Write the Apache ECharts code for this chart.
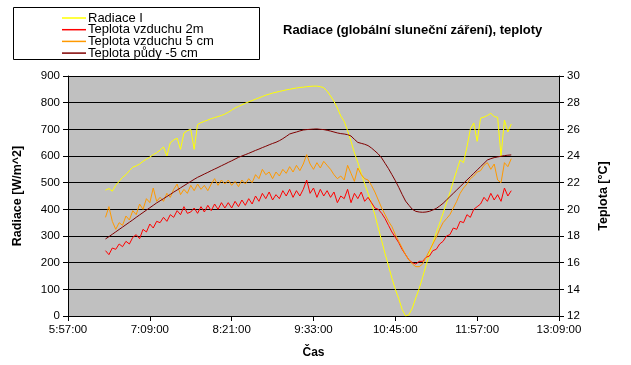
<!DOCTYPE html>
<html><head><meta charset="utf-8">
<script src="https://cdn.jsdelivr.net/npm/echarts@6/dist/echarts.min.js"></script>
<style>html,body{margin:0;padding:0;background:#fff}#c{width:631px;height:365px}</style>
</head><body><div id="c"></div>
<script>
// time in minutes since midnight, value
var radiace = [[390,472],[393,478],[396,468],[399,490],[402,505],[405,520],[408,530],[411,545],[414,558],[417,563],[420,570],[423,580],[426,588],[429,596],[432,605],[435,612],[438,622],[441,634],[444,600],[447,650],[450,660],[453,667],[456,625],[459,686],[462,695],[465,700],[468,625],[471,718],[474,725],[477,730],[480,735],[483,740],[486,744],[489,748],[492,752],[495,757],[498,764],[501,772],[504,780],[507,786],[510,792],[513,798],[516,803],[519,808],[522,813],[525,818],[528,823],[531,828],[534,832],[537,836],[540,839],[543,842],[546,845],[549,848],[552,850],[555,853],[558,855],[561,857],[564,858],[567,860],[570,861],[573,862],[576,862],[579,860],[582,856],[585,843],[588,825],[591,805],[594,780],[597,750],[600,730],[603,695],[606,655],[609,612],[612,575],[615,535],[618,497],[621,460],[624,422],[627,380],[630,330],[633,282],[636,233],[639,188],[642,142],[645,100],[648,65],[651,25],[654,0],[657,5],[660,30],[663,68],[666,103],[669,145],[672,190],[675,233],[678,274],[681,312],[684,348],[687,386],[690,424],[693,462],[696,505],[699,545],[702,585],[705,575],[708,634],[711,700],[714,724],[717,655],[720,742],[723,746],[726,752],[729,760],[732,748],[735,745],[738,600],[741,735],[744,690],[747,720]];
var vzduch2m = [[390,16.9],[393,16.6],[396,17.1],[399,17.0],[402,17.4],[405,17.2],[408,17.6],[411,17.4],[414,17.9],[417,18.1],[420,17.8],[423,18.5],[426,18.3],[429,18.9],[432,18.6],[435,19.1],[438,19.0],[441,19.4],[444,19.1],[447,19.6],[450,19.4],[453,19.9],[456,19.6],[459,20.2],[462,19.7],[465,19.8],[468,20.1],[471,19.7],[474,20.2],[477,19.8],[480,20.3],[483,19.9],[486,20.4],[489,20.0],[492,20.5],[495,20.1],[498,20.5],[501,20.1],[504,20.6],[507,20.2],[510,20.7],[513,20.3],[516,20.8],[519,20.4],[522,21.0],[525,20.6],[528,21.2],[531,20.8],[534,21.3],[537,20.7],[540,21.1],[543,20.8],[546,21.4],[549,21.0],[552,21.5],[555,20.9],[558,21.4],[561,21.0],[564,21.5],[567,22.2],[570,21.2],[573,21.6],[576,20.9],[579,21.5],[582,21.0],[585,21.4],[588,20.9],[591,21.3],[594,20.5],[597,21.0],[600,20.8],[603,21.5],[606,20.5],[609,21.2],[612,20.8],[615,21.3],[618,20.6],[621,20.9],[624,20.5],[627,20.1],[630,20.0],[633,19.7],[636,19.3],[639,18.8],[642,18.3],[645,17.9],[648,17.5],[651,17.0],[654,16.6],[657,16.2],[660,16.0],[663,15.9],[666,16.1],[669,16.1],[672,16.4],[675,16.5],[678,16.9],[681,17.0],[684,17.4],[687,17.6],[690,18.0],[693,18.1],[696,18.6],[699,18.5],[702,19.1],[705,19.0],[708,19.6],[711,19.4],[714,20.0],[717,20.2],[720,20.4],[723,20.9],[726,20.6],[729,21.2],[732,20.7],[735,21.1],[738,20.6],[741,21.6],[744,21.0],[747,21.4]];
var vzduch5cm = [[390,19.4],[393,20.2],[396,19.1],[399,18.5],[402,19.0],[405,18.8],[408,19.5],[411,19.2],[414,19.9],[417,19.6],[420,20.4],[423,20.0],[426,20.8],[429,20.5],[432,21.6],[435,20.6],[438,20.9],[441,20.6],[444,21.2],[447,20.9],[450,21.5],[453,21.9],[456,21.1],[459,21.5],[462,21.2],[465,21.8],[468,21.4],[471,21.9],[474,21.5],[477,21.8],[480,21.4],[483,21.9],[486,22.3],[489,21.8],[492,22.2],[495,21.9],[498,22.2],[501,21.8],[504,22.1],[507,21.7],[510,22.2],[513,21.9],[516,22.3],[519,22.0],[522,22.6],[525,22.3],[528,23.0],[531,22.6],[534,22.8],[537,22.3],[540,22.8],[543,22.5],[546,23.0],[549,22.7],[552,23.2],[555,22.8],[558,23.3],[561,22.9],[564,23.4],[567,24.1],[570,23.4],[573,23.0],[576,23.5],[579,23.1],[582,23.6],[585,23.3],[588,23.0],[591,22.6],[594,22.3],[597,22.5],[600,22.2],[603,23.3],[606,22.7],[609,22.1],[612,23.1],[615,22.6],[618,22.3],[621,22.2],[624,21.8],[627,21.3],[630,20.7],[633,20.1],[636,19.6],[639,19.1],[642,18.7],[645,18.1],[648,17.6],[651,17.1],[654,16.6],[657,16.2],[660,15.9],[663,15.7],[666,15.7],[669,15.9],[672,16.4],[675,16.9],[678,17.4],[681,17.9],[684,18.5],[687,19.0],[690,19.3],[693,19.6],[696,20.1],[699,20.6],[702,21.2],[705,21.6],[708,21.9],[711,22.3],[714,22.5],[717,22.8],[720,22.9],[723,23.3],[726,23.5],[729,23.0],[732,23.4],[735,22.2],[738,22.0],[741,23.5],[744,23.2],[747,23.8]];
var pudy = [[390,17.78],[393,17.95],[396,18.13],[399,18.31],[402,18.49],[405,18.67],[408,18.85],[411,19.03],[414,19.21],[417,19.4],[420,19.58],[423,19.76],[426,19.94],[429,20.12],[432,20.3],[435,20.48],[438,20.64],[441,20.8],[444,20.96],[447,21.12],[450,21.29],[453,21.45],[456,21.61],[459,21.77],[462,21.93],[465,22.09],[468,22.25],[471,22.4],[474,22.52],[477,22.65],[480,22.77],[483,22.9],[486,23.02],[489,23.14],[492,23.27],[495,23.39],[498,23.52],[501,23.64],[504,23.77],[507,23.9],[510,24.0],[513,24.1],[516,24.2],[519,24.31],[522,24.42],[525,24.52],[528,24.63],[531,24.73],[534,24.84],[537,24.94],[540,25.03],[543,25.15],[546,25.3],[549,25.47],[552,25.65],[555,25.73],[558,25.8],[561,25.88],[564,25.95],[567,25.98],[570,26.0],[573,26.02],[576,26.03],[579,26.0],[582,25.98],[585,25.93],[588,25.87],[591,25.8],[594,25.73],[597,25.68],[600,25.65],[603,25.6],[606,25.5],[609,25.25],[612,25.02],[615,24.95],[618,24.88],[621,24.78],[624,24.6],[627,24.38],[630,24.15],[633,23.85],[636,23.45],[639,23.05],[642,22.6],[645,22.15],[648,21.65],[651,21.12],[654,20.62],[657,20.3],[660,20.0],[663,19.85],[666,19.8],[669,19.78],[672,19.8],[675,19.85],[678,19.95],[681,20.07],[684,20.25],[687,20.45],[690,20.7],[693,20.95],[696,21.2],[699,21.45],[702,21.7],[705,21.95],[708,22.2],[711,22.45],[714,22.7],[717,22.95],[720,23.2],[723,23.45],[726,23.7],[729,23.8],[732,23.88],[735,23.93],[738,23.98],[741,24.03],[744,24.06],[747,24.08]];
var seriesNames = ['Radiace I','Teplota vzduchu 2m','Teplota vzduchu 5 cm','Teplota půdy -5 cm'];
var xStartMin = 357, xEndMin = 789, xStepMin = 72; // 5:57:00 .. 13:09:00
var radTicks = {min:0, max:900, step:100};
var tempTicks = {min:12, max:30, step:2};

function shift(arr){ return arr.map(function(p){ return [p[0]-xStartMin, p[1]]; }); }
function fmtTime(v){
  var m = Math.round(v + xStartMin), h = Math.floor(m/60), mm = m%60;
  return h + ':' + (mm<10?'0':'') + mm + ':00';
}
var font = 'Liberation Sans, Arial, sans-serif';
var chart = echarts.init(document.getElementById('c'), null, {renderer:'canvas'});
function line(name, data, color, yi){
  return {name:name, type:'line', data:shift(data), yAxisIndex:yi, symbol:'none', showSymbol:false,
    lineStyle:{color:color, width:1}, itemStyle:{color:color}, animation:false, z: 3};
}
chart.setOption({
  animation:false,
  backgroundColor:'#ffffff',
  textStyle:{fontFamily:font, color:'#000'},
  title:{text:'Radiace (globální sluneční záření), teploty', left:283, top:24, padding:0,
    textStyle:{fontFamily:font, fontSize:13, fontWeight:'bold', color:'#000'}},
  graphic:[{type:'rect', shape:{x:13.5, y:7.5, width:246, height:52}, style:{fill:'#fff', stroke:'#000', lineWidth:1}, z:0}],
  legend:{orient:'vertical', left:62, top:11.5, itemGap:-1.3, itemWidth:24, itemHeight:1.5, padding:0, icon:'rect',
    textStyle:{fontFamily:font, fontSize:13, color:'#000', lineHeight:11.7, height:11.7, padding:[0,0,0,-3]},
    data:seriesNames, z:5},
  grid:{left:68, right:72, top:76, bottom:49, show:true, backgroundColor:'#c0c0c0', borderWidth:0},
  xAxis:{type:'value', min:0, max:xEndMin-xStartMin, interval:xStepMin,
    name:'Čas', nameLocation:'middle', nameGap:31,
    nameTextStyle:{fontFamily:font, fontSize:12, fontWeight:'bold', color:'#000'},
    axisLine:{show:true, lineStyle:{color:'#000', width:1}},
    axisTick:{show:true, inside:false, length:5, lineStyle:{color:'#000'}},
    axisLabel:{formatter:fmtTime, color:'#000', fontSize:11.5, fontFamily:font, margin:8},
    splitLine:{show:false}},
  yAxis:[
    {type:'value', min:radTicks.min, max:radTicks.max, interval:radTicks.step, position:'left',
     name:'Radiace [W/m^2]', nameLocation:'middle', nameGap:44,
     nameTextStyle:{fontFamily:font, fontSize:12.5, fontWeight:'bold', color:'#000'},
     axisLine:{show:true, lineStyle:{color:'#000', width:1}},
     axisTick:{show:true, inside:false, length:5, lineStyle:{color:'#000'}},
     axisLabel:{color:'#000', fontSize:11.5, fontFamily:font, margin:8},
     splitLine:{show:true, lineStyle:{color:'#000', width:1, type:'solid'}}},
    {type:'value', min:tempTicks.min, max:tempTicks.max, interval:tempTicks.step, position:'right',
     name:'Teplota [°C]', nameLocation:'middle', nameGap:38,
     nameTextStyle:{fontFamily:font, fontSize:12.5, fontWeight:'bold', color:'#000'},
     axisLine:{show:true, lineStyle:{color:'#000', width:1}},
     axisTick:{show:true, inside:false, length:5, lineStyle:{color:'#000'}},
     axisLabel:{color:'#000', fontSize:11.5, fontFamily:font, margin:8},
     splitLine:{show:false}}
  ],
  series:[
    line(seriesNames[0], radiace, '#ffff00', 0),
    line(seriesNames[1], vzduch2m, '#ff0000', 1),
    line(seriesNames[2], vzduch5cm, '#ff9900', 1),
    line(seriesNames[3], pudy, '#800000', 1)
  ]
});
</script></body></html>
